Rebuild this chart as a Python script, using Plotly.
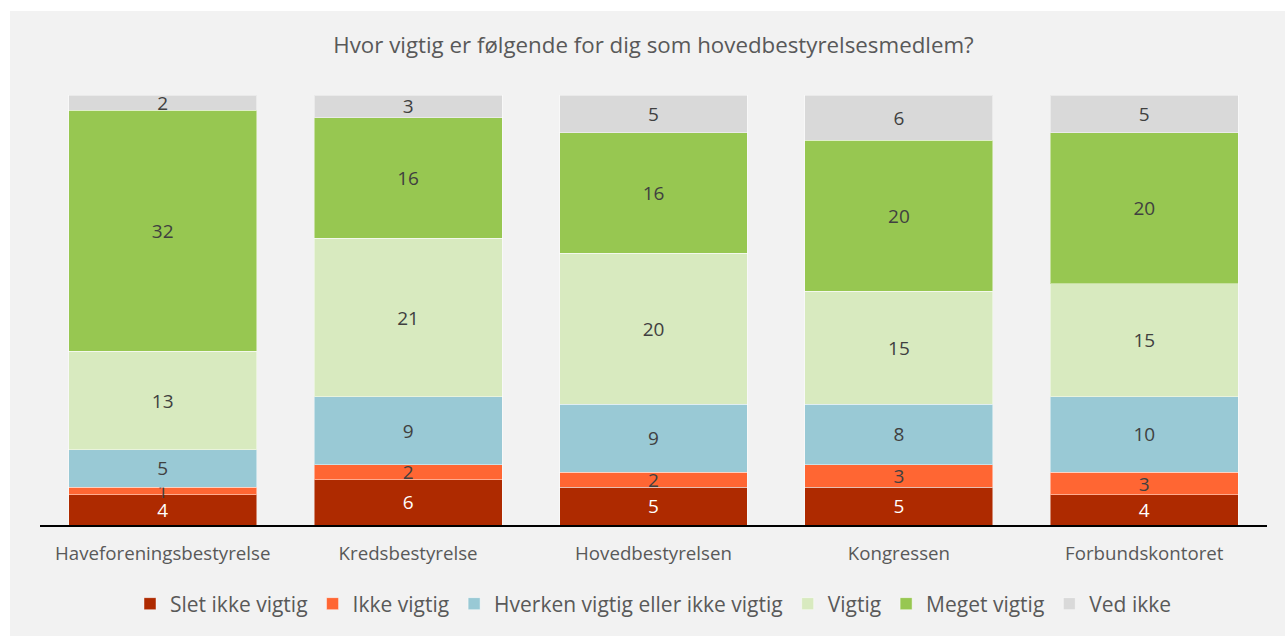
import plotly.graph_objects as go

# Survey: how important are these bodies to a board member (counts of answers)
categories = ["Haveforeningsbestyrelse", "Kredsbestyrelse", "Hovedbestyrelsen",
              "Kongressen", "Forbundskontoret"]

slet_ikke_vigtig = [4, 6, 5, 5, 4]
ikke_vigtig = [1, 2, 2, 3, 3]
hverken = [5, 9, 9, 8, 10]
vigtig = [13, 21, 20, 15, 15]
meget_vigtig = [32, 16, 16, 20, 20]
ved_ikke = [2, 3, 5, 6, 5]

series = [
    ("Slet ikke vigtig", slet_ikke_vigtig, "#AE2A00", "#FFFFFF"),
    ("Ikke vigtig", ikke_vigtig, "#FF6633", "#404040"),
    ("Hverken vigtig eller ikke vigtig", hverken, "#99C9D5", "#404040"),
    ("Vigtig", vigtig, "#D8EABF", "#404040"),
    ("Meget vigtig", meget_vigtig, "#97C751", "#404040"),
    ("Ved ikke", ved_ikke, "#D9D9D9", "#404040"),
]

FONT = "Open Sans"
GREY_TEXT = "#595959"

fig = go.Figure()
for name, vals, color, txtcolor in series:
    fig.add_trace(go.Bar(
        name=name,
        x=categories,
        y=vals,
        marker=dict(color=color, line=dict(color="rgba(255,255,255,0.45)", width=1)),
        text=[str(v) for v in vals],
        textposition="inside",
        insidetextanchor="middle",
        textangle=0,
        textfont=dict(family=FONT, size=19, color=txtcolor),
        cliponaxis=False,
        hoverinfo="skip",
    ))

# plot area spans x 40..1267 px, y 95..525 px
L, R, T, B = 40, 18, 95, 111
W, H = 1285, 636
pw, ph = W - L - R, H - T - B

def px_x(px):
    return (px - L) / pw

def px_y(py):
    return (H - B - py) / ph

fig.update_layout(
    width=W, height=H,
    margin=dict(l=L, r=R, t=T, b=B),
    barmode="stack",
    bargap=0.234,
    paper_bgcolor="#FFFFFF",
    plot_bgcolor="rgba(0,0,0,0)",
    font=dict(family=FONT, color=GREY_TEXT),
    uniformtext=dict(minsize=19, mode="show"),
    title=dict(
        text="Hvor vigtig er følgende for dig som hovedbestyrelsesmedlem?",
        font=dict(family=FONT, size=22.3, color=GREY_TEXT),
        x=0.5, xref="paper", xanchor="center",
        y=1 - 45 / H, yref="container", yanchor="middle",
    ),
    showlegend=True,
    legend=dict(
        orientation="h",
        x=0.5, xanchor="center",
        y=px_y(604), yanchor="middle",
        font=dict(family=FONT, size=21, color=GREY_TEXT),
        bgcolor="rgba(0,0,0,0)",
        traceorder="normal",
    ),
    shapes=[dict(
        type="rect", xref="paper", yref="paper",
        x0=px_x(10), x1=px_x(1300), y0=px_y(660), y1=px_y(11),
        fillcolor="#F2F2F2", line=dict(width=0), layer="below",
    )],
)

fig.update_xaxes(
    showline=True, linecolor="#000000", linewidth=2,
    showgrid=False, ticks="", zeroline=False,
    tickfont=dict(family=FONT, size=18.7, color=GREY_TEXT),
    ticklabelstandoff=11,
)
fig.update_yaxes(visible=False, range=[0, 57])

fig.write_html("out.html")
